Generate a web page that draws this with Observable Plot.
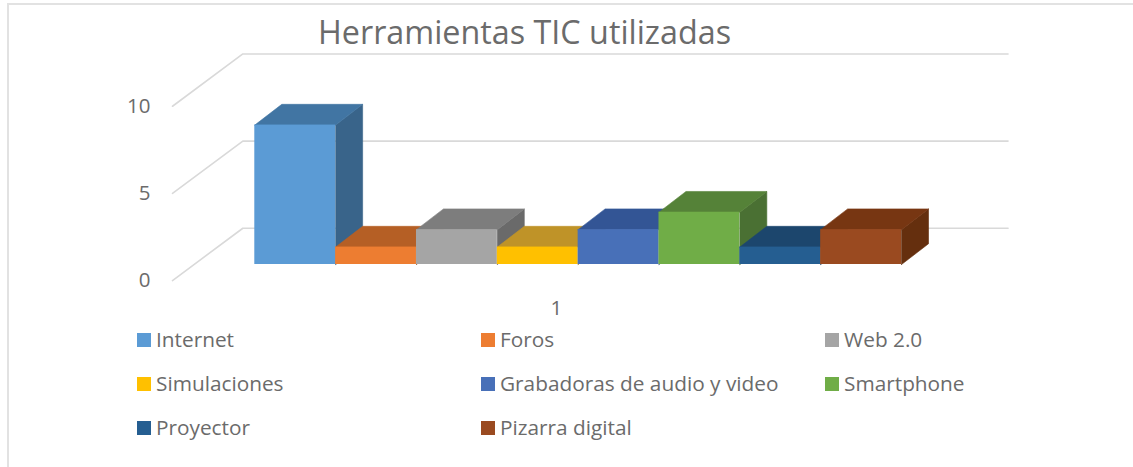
<!DOCTYPE html>
<html lang="es">
<head>
<meta charset="utf-8">
<script src="https://cdn.jsdelivr.net/npm/d3@7"></script>
<script src="https://cdn.jsdelivr.net/npm/@observablehq/plot@0.6"></script>
<style>
  html, body { margin: 0; padding: 0; background: #fff; }
  body { width: 1133px; height: 467px; overflow: hidden; position: relative; font-family: "Open Sans", sans-serif; color: #6b6b6b; }
  .rule { position: absolute; background: #e2e2e2; }
  #title { height: 46px; box-sizing: border-box; padding: 12px 0 0 318px; font-size: 32.3px; line-height: 38px; white-space: nowrap; }
  svg { display: block; }
  #legend { display: grid; grid-template-columns: repeat(3, 344px); grid-auto-rows: 44px; align-items: start; padding-left: 137px; font-size: 20.8px; }
  #legend div { display: flex; align-items: center; height: 24px; white-space: nowrap; }
  #legend i { width: 14px; height: 14px; margin-right: 5px; flex: none; }
  #legend span { position: relative; top: -1px; }
</style>
</head>
<body>
<div class="rule" style="left:7px;top:3px;right:0;height:2px"></div>
<div class="rule" style="left:7px;top:3px;bottom:0;width:2px"></div>
<div id="title">Herramientas TIC utilizadas</div>
<div id="chart"></div>
<div id="legend"></div>
<script>
const categories = ["Internet", "Foros", "Web 2.0", "Simulaciones", "Grabadoras de audio y video", "Smartphone", "Proyector", "Pizarra digital"];
const values = [8, 1, 2, 1, 2, 3, 1, 2];
const frontColors = ["#5B9BD5", "#ED7D31", "#A5A5A5", "#FFC000", "#4870B8", "#70AD47", "#255E91", "#9A4A20"];
const topColors = ["#4175A3", "#B55F25", "#7D7D7D", "#BF9328", "#335595", "#558238", "#1C466D", "#773612"];
const sideColors = ["#39648A", "#9C5220", "#6A6A6A", "#A37E22", "#2C4A80", "#4A7033", "#183D5E", "#652F0E"];
const yTicks = [0, 5, 10];
const xTickLabel = "1";

// Projection of the 3-D box, in units of the x and y scales
const barDepthX = 0.334, barDepthY = 1.19;
const wallFrontX = -1.018, wallBackX = -0.148, wallEndX = 9.318;
const wallFrontRise = -0.92, wallBackRise = 2.08;

const bars = categories.map((name, i) => ({name, i, value: values[i]}));

function topFace(b) {
  return [
    {x: b.i, y: b.value},
    {x: b.i + barDepthX, y: b.value + barDepthY},
    {x: b.i + 1 + barDepthX, y: b.value + barDepthY},
    {x: b.i + 1, y: b.value},
    {x: b.i, y: b.value}
  ];
}
function sideFace(b) {
  return [
    {x: b.i + 1, y: 0},
    {x: b.i + 1, y: b.value},
    {x: b.i + 1 + barDepthX, y: b.value + barDepthY},
    {x: b.i + 1 + barDepthX, y: barDepthY},
    {x: b.i + 1, y: 0}
  ];
}
const face = (b, fn, colors) => Plot.line(fn(b), {x: "x", y: "y", fill: colors[b.i], stroke: colors[b.i], strokeWidth: 0.6});

const plot = Plot.plot({
  width: 1133,
  height: 282,
  margin: 0,
  style: {fontFamily: "'Open Sans', sans-serif", background: "transparent", color: "#6b6b6b"},
  x: {domain: [0, 8], range: [254.3, 901], axis: null},
  y: {domain: [0, 10], range: [218, 43.7], axis: null},
  color: {domain: categories, range: frontColors},
  marks: [
    ...yTicks.map(t => Plot.line(
      [{x: wallFrontX, y: t + wallFrontRise}, {x: wallBackX, y: t + wallBackRise}, {x: wallEndX, y: t + wallBackRise}],
      {x: "x", y: "y", stroke: "#d9d9d9", strokeWidth: 1.6}
    )),
    ...bars.map(b => face(b, sideFace, sideColors)),
    ...bars.map(b => face(b, topFace, topColors)),
    Plot.rect(bars, {x1: "i", x2: d => d.i + 1, y1: () => 0, y2: "value", fill: "name", inset: 0}),
    Plot.text(yTicks, {x: () => wallFrontX, y: d => d + wallFrontRise, text: d => String(d), textAnchor: "end", dx: -22, fontSize: 20.5, fill: "#6b6b6b"}),
    Plot.text([xTickLabel], {x: () => 3.73, y: () => -2.5, text: d => d, fontSize: 20.5, fill: "#6b6b6b"})
  ]
});
document.getElementById("chart").appendChild(plot);

const legend = document.getElementById("legend");
categories.forEach((name, i) => {
  const row = document.createElement("div");
  const swatch = document.createElement("i");
  swatch.style.background = frontColors[i];
  const label = document.createElement("span");
  label.textContent = name;
  row.appendChild(swatch);
  row.appendChild(label);
  legend.appendChild(row);
});
</script>
</body>
</html>
